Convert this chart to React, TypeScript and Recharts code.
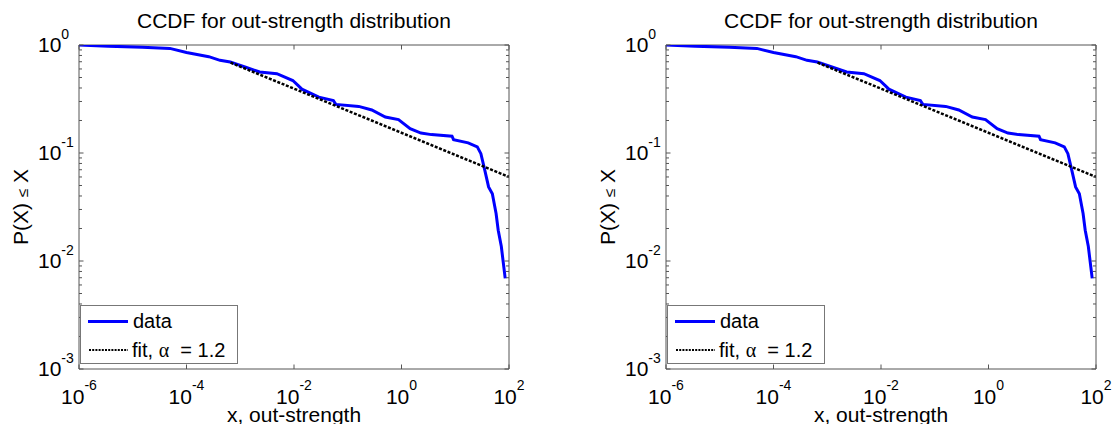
import { LineChart, Line, XAxis, YAxis, ReferenceArea, Legend } from 'recharts'

// values (log-log CCDF)
const dataX = [
    1e-6, 3.5e-6, 1.5e-5, 4.9e-5, 1.0e-4, 2.6e-4, 4.2e-4, 6.5e-4, 1.26e-3, 2.3e-3,
    4.8e-3, 9.5e-3, 1.2e-2, 1.4e-2, 2.9e-2, 5.4e-2, 6.0e-2, 0.16, 0.28, 0.5,
    0.88, 1.45, 2.3, 3.6, 8.7, 9.3, 17.4, 25.7, 30, 35.5,
    41.7, 49, 57.5, 63, 72, 85,
]
const dataP = [
    1.0, 0.975, 0.955, 0.93, 0.851, 0.78, 0.721, 0.697, 0.622, 0.562,
    0.543, 0.469, 0.42, 0.39, 0.329, 0.306, 0.282, 0.27, 0.25, 0.215,
    0.204, 0.168, 0.153, 0.148, 0.143, 0.133, 0.124, 0.114, 0.0986, 0.069,
    0.0485, 0.042, 0.0275, 0.0193, 0.0136, 0.0069,
]
const fitX = [6.6e-4, 100]
const fitP = [0.687, 0.06]

const xTicks = [1e-6, 1e-4, 1e-2, 1, 100]
const yTicks = [1e-3, 1e-2, 1e-1, 1]
const minorMult = [2, 3, 4, 5, 6, 7, 8, 9]

const titleText = 'CCDF for out-strength distribution'
const xLabelText = 'x, out-strength'
const seriesNames = ['data', 'fit, ']

const dataPts = dataX.map((x, i) => ({ x, y: dataP[i] }))
const fitPts = fitX.map((x, i) => ({ x, y: fitP[i] }))
const yAllTicks = [...yTicks, ...yTicks.slice(0, -1).flatMap(d => minorMult.map(m => d * m))].sort((a, b) => a - b)

const FONT = '"Liberation Sans", Arial, Helvetica, sans-serif'
const AXIS = '#555'
const PLOT_W = 430
const PLOT_H = 324

const isMajor = (v: number) => {
    const e = Math.log10(v)
    return Math.abs(e - Math.round(e)) < 1e-6
}

const XTick = (props: any) => {
    const { x, y, payload } = props
    const exp = Math.round(Math.log10(payload.value))
    return (
        <g>
            <line x1={x} x2={x} y1={y} y2={y - 4.5} stroke={AXIS} />
            <line x1={x} x2={x} y1={y - PLOT_H} y2={y - PLOT_H + 4.5} stroke={AXIS} />
            <text x={x} y={y + 35} textAnchor='middle' fontFamily={FONT} fontSize={21} fill='#000'>
                10<tspan dy={-14} fontSize={14}>{exp}</tspan>
            </text>
        </g>
    )
}

const YTick = (props: any) => {
    const { x, y, payload } = props
    const major = isMajor(payload.value)
    const len = major ? 4.5 : 3
    return (
        <g>
            <line x1={x} x2={x + len} y1={y} y2={y} stroke={AXIS} />
            <line x1={x + PLOT_W - len} x2={x + PLOT_W} y1={y} y2={y} stroke={AXIS} />
            {major && (
                <text x={x - 41} y={y + 7} fontFamily={FONT} fontSize={21} fill='#000'>
                    10<tspan dy={-13} fontSize={14}>{Math.round(Math.log10(payload.value))}</tspan>
                </text>
            )}
        </g>
    )
}

const LegendBox = () => (
    <svg width={158} height={59} style={{ display: 'block' }}>
        <rect x={0.5} y={0.5} width={157} height={58} fill='#fff' stroke='#777' />
        <line x1={8} x2={48} y1={16.5} y2={16.5} stroke='#0000ff' strokeWidth={3} />
        <text x={53} y={23} fontFamily={FONT} fontSize={20} fill='#000'>{seriesNames[0]}</text>
        <line x1={9} x2={48} y1={45} y2={45} stroke='#000' strokeWidth={2} strokeDasharray='2 1.2' />
        <text x={52} y={52} fontFamily={FONT} fontSize={20} fill='#000' style={{ whiteSpace: 'pre' }}>
            {seriesNames[1]}<tspan fontFamily='"Liberation Serif", serif'>α</tspan>{'  = 1.2'}
        </text>
    </svg>
)

const Panel = ({ left, width }: { left: number, width: number }) => {
    const right = width - 79 - PLOT_W
    return (
        <div style={{ position: 'absolute', left, top: 0, width, height: 424 }}>
            <div style={{
                position: 'absolute', left: 79, top: 10, width: PLOT_W, textAlign: 'center',
                fontFamily: FONT, fontSize: 21, lineHeight: '21px', color: '#000', whiteSpace: 'nowrap',
            }}>
                {titleText}
            </div>
            <LineChart width={width} height={424} margin={{ top: 45, right, bottom: 0, left: 0 }} style={{ overflow: 'visible' }}>
                <XAxis
                    dataKey='x' type='number' scale='log' domain={[1e-6, 100]} allowDataOverflow
                    ticks={xTicks} interval={0} tickSize={0} tickMargin={0} axisLine={false} tickLine={false}
                    height={55} tick={<XTick />}
                    label={{
                        content: (p: any) => (
                            <text x={p.viewBox.x + p.viewBox.width / 2} y={p.viewBox.y + 53} textAnchor='middle'
                                fontFamily={FONT} fontSize={21} fill='#000'>{xLabelText}</text>
                        ),
                    }}
                />
                <YAxis
                    dataKey='y' type='number' scale='log' domain={[1e-3, 1]} allowDataOverflow
                    ticks={yAllTicks} interval={0} tickSize={0} tickMargin={0} axisLine={false} tickLine={false}
                    width={79} tick={<YTick />}
                    label={{
                        content: (p: any) => {
                            const cx = p.viewBox.x + 28
                            const cy = p.viewBox.y + p.viewBox.height / 2
                            return (
                                <text x={cx} y={cy} textAnchor='middle' transform={`rotate(-90 ${cx} ${cy})`}
                                    fontFamily={FONT} fontSize={21} fill='#000'>
                                    P(X) <tspan fontSize={15}>≤</tspan> X
                                </text>
                            )
                        },
                    }}
                />
                <Line data={dataPts} dataKey='y' stroke='#0000ff' strokeWidth={3} dot={false} type='linear' isAnimationActive={false} />
                <Line data={fitPts} dataKey='y' stroke='#000' strokeWidth={2.5} strokeDasharray='3 1.6' dot={false} type='linear' isAnimationActive={false} />
                <ReferenceArea x1={1e-6} x2={100} y1={1e-3} y2={1} fill='none' stroke={AXIS} strokeWidth={1} ifOverflow='visible' />
                <Legend
                    layout='vertical' align='center' verticalAlign='middle'
                    wrapperStyle={{ left: 80, top: 305, width: 158, height: 59 }}
                    content={() => <LegendBox />}
                />
            </LineChart>
        </div>
    )
}

export default function App() {
    return (
        <div style={{ position: 'fixed', left: 0, top: 0, width: 1114, height: 424, background: '#fff', overflow: 'hidden' }}>
            <Panel left={0} width={587} />
            <Panel left={587} width={527} />
        </div>
    )
}
